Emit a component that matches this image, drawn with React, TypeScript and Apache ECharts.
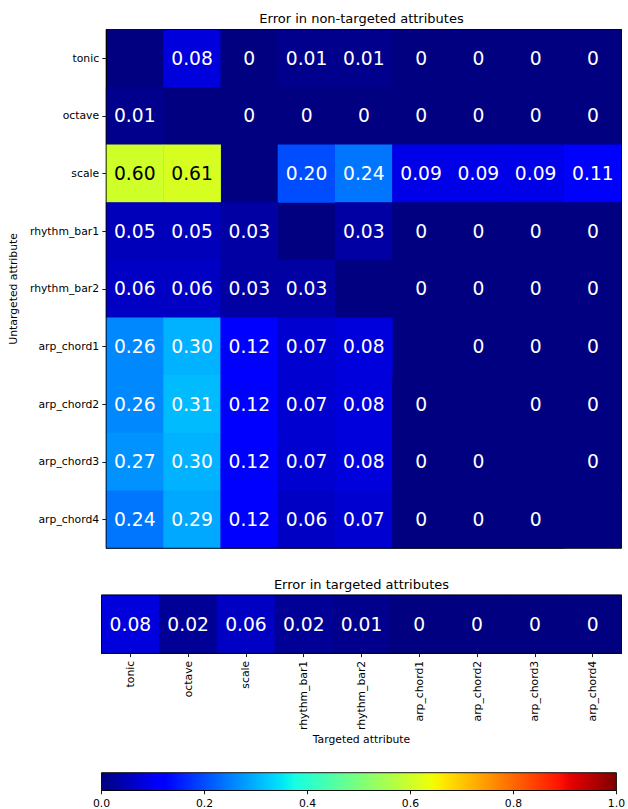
import React, { useEffect, useRef } from "react";
import * as echarts from "echarts";

const TARGETED = ["tonic", "octave", "scale", "rhythm_bar1", "rhythm_bar2", "arp_chord1", "arp_chord2", "arp_chord3", "arp_chord4"];
const UNTARGETED = ["tonic", "octave", "scale", "rhythm_bar1", "rhythm_bar2", "arp_chord1", "arp_chord2", "arp_chord3", "arp_chord4"];

// rows = untargeted attribute, columns = targeted attribute; null = diagonal (no value)
const ERR_TONIC = [null, 0.08, 0, 0.01, 0.01, 0, 0, 0, 0];
const ERR_OCTAVE = [0.01, null, 0, 0, 0, 0, 0, 0, 0];
const ERR_SCALE = [0.6, 0.61, null, 0.2, 0.24, 0.09, 0.09, 0.09, 0.11];
const ERR_RHYTHM1 = [0.05, 0.05, 0.03, null, 0.03, 0, 0, 0, 0];
const ERR_RHYTHM2 = [0.06, 0.06, 0.03, 0.03, null, 0, 0, 0, 0];
const ERR_ARP1 = [0.26, 0.3, 0.12, 0.07, 0.08, null, 0, 0, 0];
const ERR_ARP2 = [0.26, 0.31, 0.12, 0.07, 0.08, 0, null, 0, 0];
const ERR_ARP3 = [0.27, 0.3, 0.12, 0.07, 0.08, 0, 0, null, 0];
const ERR_ARP4 = [0.24, 0.29, 0.12, 0.06, 0.07, 0, 0, 0, null];
const NON_TARGETED = [ERR_TONIC, ERR_OCTAVE, ERR_SCALE, ERR_RHYTHM1, ERR_RHYTHM2, ERR_ARP1, ERR_ARP2, ERR_ARP3, ERR_ARP4];

const TARGETED_ERR = [0.08, 0.02, 0.06, 0.02, 0.01, 0, 0, 0, 0];

const CB_MIN = 0;
const CB_MAX = 1;
const CB_STEP = 0.2;

// matplotlib "jet" colormap segment data
const JET_R = [[0, 0], [0.35, 0], [0.66, 1], [0.89, 1], [1, 0.5]];
const JET_G = [[0, 0], [0.125, 0], [0.375, 1], [0.64, 1], [0.91, 0], [1, 0]];
const JET_B = [[0, 0.5], [0.11, 1], [0.34, 1], [0.65, 0], [1, 0]];

function seg(pts: number[][], x: number) {
  for (let i = 1; i < pts.length; i++) {
    if (x <= pts[i][0]) {
      const [x0, y0] = pts[i - 1];
      const [x1, y1] = pts[i];
      return y0 + ((y1 - y0) * (x - x0)) / (x1 - x0);
    }
  }
  return pts[pts.length - 1][1];
}
function jet(x: number) {
  const r = Math.round(seg(JET_R, x) * 255);
  const g = Math.round(seg(JET_G, x) * 255);
  const b = Math.round(seg(JET_B, x) * 255);
  return `rgb(${r},${g},${b})`;
}
const N_SAMPLES = 129;
const JET_COLORS = Array.from({ length: N_SAMPLES }, (_, i) => jet(i / (N_SAMPLES - 1)));

const FONT = "DejaVu Sans";
const TICK_FS = 10.8;
const CELL_FS = 18.7;

const fmt = (v: number) => (v === 0 ? "0" : v.toFixed(2));

export default function App() {
  const ref = useRef<HTMLDivElement>(null);
  useEffect(() => {
    if (!ref.current) return;
    const chart = echarts.init(ref.current, undefined, { renderer: "svg" });

    const topData: any[] = [];
    NON_TARGETED.forEach((row, y) => {
      row.forEach((v, x) => {
        if (v === null) return;
        topData.push({ value: [x, y, v], label: { color: v >= 0.5 ? "#000" : "#fff" } });
      });
    });
    const bottomData = TARGETED_ERR.map((v, x) => ({
      value: [x, 0, v],
      label: { color: v >= 0.5 ? "#000" : "#fff" },
    }));

    const cellLabel = {
      show: true,
      fontSize: CELL_FS,
      fontFamily: FONT,
      formatter: (p: any) => fmt(p.value[2]),
    };
    const tick = { show: true, alignWithLabel: true, length: 3.8, lineStyle: { color: "#000", width: 0.9 } };
    const line = { show: true, lineStyle: { color: "#000", width: 0.9 } };
    const txt = { fontSize: TICK_FS, fontFamily: FONT, color: "#000" };
    const gridBase = { show: true, borderColor: "#000", borderWidth: 0.9, z: 10, backgroundColor: "transparent", left: 101.5, width: 520 };
    // single-band background axis: paints behind the cells in the colormap's minimum colour
    const bgAxis = (gridIndex: number) => ({
      gridIndex,
      type: "category",
      position: "top",
      data: ["background"],
      axisLine: { show: false },
      axisTick: { show: false },
      axisLabel: { show: false },
      splitLine: { show: false },
      splitArea: { show: true, areaStyle: { color: [JET_COLORS[0]] } },
    });

    const stops = JET_COLORS.map((c, i) => ({ offset: i / (N_SAMPLES - 1), color: c }));

    chart.setOption({
      animation: false,
      textStyle: { fontFamily: FONT },
      grid: [
        { ...gridBase, top: 29.5, height: 518.8 },
        { ...gridBase, top: 595, height: 58.3 },
        { ...gridBase, top: 772.7, height: 18.5 },
      ],
      xAxis: [
        {
          gridIndex: 0,
          type: "category",
          data: TARGETED,
          axisLine: { show: false },
          axisTick: { show: false },
          axisLabel: { show: false },
          splitLine: { show: false },
        },
        {
          gridIndex: 1,
          type: "category",
          data: TARGETED,
          axisLine: line,
          axisTick: tick,
          axisLabel: { ...txt, rotate: 90, margin: 7.5, interval: 0 },
          name: "Targeted attribute",
          nameLocation: "middle",
          nameGap: 80,
          nameTextStyle: txt,
        },
        {
          gridIndex: 2,
          type: "value",
          min: CB_MIN,
          max: CB_MAX,
          interval: CB_STEP,
          axisLine: line,
          axisTick: { show: true, length: 3.8, lineStyle: { color: "#000", width: 0.9 } },
          splitLine: { show: false },
          axisLabel: { ...txt, margin: 7.5, formatter: (v: number) => v.toFixed(1) },
        },
        bgAxis(0),
        bgAxis(1),
      ],
      yAxis: [
        {
          gridIndex: 0,
          type: "category",
          data: UNTARGETED,
          inverse: true,
          axisLine: line,
          axisTick: tick,
          axisLabel: { ...txt, margin: 7, interval: 0 },
          name: "Untargeted attribute",
          nameLocation: "middle",
          nameGap: 80.5,
          nameTextStyle: txt,
        },
        {
          gridIndex: 1,
          type: "category",
          data: ["targeted"],
          axisLine: { show: false },
          axisTick: { show: false },
          axisLabel: { show: false },
        },
        {
          gridIndex: 2,
          type: "category",
          data: ["colorbar"],
          show: false,
        },
      ],
      visualMap: {
        type: "continuous",
        min: CB_MIN,
        max: CB_MAX,
        show: false,
        seriesIndex: [0, 1],
        dimension: 2,
        inRange: { color: JET_COLORS },
      },
      series: [
        {
          type: "heatmap",
          xAxisIndex: 0,
          yAxisIndex: 0,
          data: topData,
          label: cellLabel,
          itemStyle: { borderWidth: 0 },
          emphasis: { disabled: true },
        },
        {
          type: "heatmap",
          xAxisIndex: 1,
          yAxisIndex: 1,
          data: bottomData,
          label: cellLabel,
          itemStyle: { borderWidth: 0 },
          emphasis: { disabled: true },
        },
        {
          type: "bar",
          xAxisIndex: 2,
          yAxisIndex: 2,
          data: [CB_MAX],
          barWidth: "100%",
          silent: true,
          itemStyle: { color: new echarts.graphic.LinearGradient(0, 0, 1, 0, stops) },
        },
      ],
      graphic: [
        {
          type: "text",
          x: 361.5,
          y: 18.5,
          style: { text: "Error in non-targeted attributes", fill: "#000", fontSize: 13, fontFamily: FONT, align: "center", verticalAlign: "middle" },
        },
        {
          type: "text",
          x: 361.5,
          y: 584,
          style: { text: "Error in targeted attributes", fill: "#000", fontSize: 13, fontFamily: FONT, align: "center", verticalAlign: "middle" },
        },
      ],
    });
    return () => chart.dispose();
  }, []);
  return <div ref={ref} style={{ position: "absolute", left: 0, top: 0, width: 628, height: 809 }} />;
}
